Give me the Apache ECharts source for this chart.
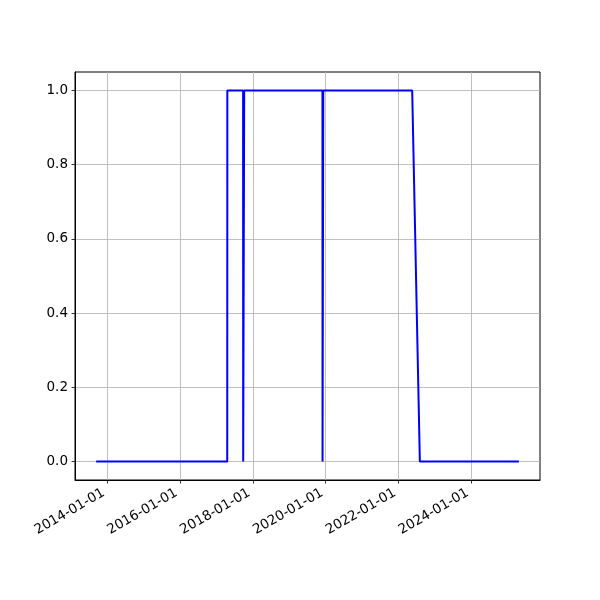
<!DOCTYPE html>
<html>
<head>
<meta charset="utf-8">
<script src="https://cdn.jsdelivr.net/npm/echarts@6/dist/echarts.min.js"></script>
<style>html,body{margin:0;padding:0;background:#fff}#c{width:600px;height:600px}</style>
</head>
<body>
<div id="c"></div>
<script>
const dates = ['2013-09-13','2017-04-20','2017-04-21','2017-09-26','2017-09-27','2017-10-06','2017-10-07','2019-12-01','2019-12-02','2019-12-08','2019-12-09','2022-05-19','2022-08-04','2025-04-23'];
const values = [0,0,1,1,0,0,1,1,0,0,1,1,0,0];
const xTickLabels = ['2014-01-01','2016-01-01','2018-01-01','2020-01-01','2022-01-01','2024-01-01'];
const yTicks = [0,0.2,0.4,0.6,0.8,1.0];

const toMs = s => Date.parse(s + 'T00:00:00Z');
const data = dates.map((d,i) => [toMs(d), values[i]]);
const xTicks = xTickLabels.map(toMs);
const xs = data.map(p => p[0]);
const span = Math.max(...xs) - Math.min(...xs);
const xMin = Math.min(...xs) - span*0.05;
const xMax = Math.max(...xs) + span*0.05;

const chart = echarts.init(document.getElementById('c'));
chart.setOption({
  animation: false,
  grid: {left: 75, right: 60, top: 72, bottom: 120, show: true, borderColor: '#000', borderWidth: 1, backgroundColor: 'transparent'},
  xAxis: {
    type: 'value', min: xMin, max: xMax,
    axisLine: {show: true, onZero: false, lineStyle: {color: '#000', width: 1}},
    axisTick: {show: true, customValues: xTicks, length: 3.5, lineStyle: {color: '#000', width: 0.8}},
    axisLabel: {customValues: xTicks, rotate: 30, margin: 10, padding: [0, 4, 0, 0], color: '#000', fontSize: 13.5, fontFamily: 'DejaVu Sans',
      formatter: v => new Date(v).toISOString().slice(0,10)},
    splitLine: {show: true, lineStyle: {color: '#b0b0b0', width: 0.8}}
  },
  yAxis: {
    type: 'value', min: -0.05, max: 1.05,
    axisLine: {show: true, onZero: false, lineStyle: {color: '#000', width: 1}},
    axisTick: {show: true, customValues: yTicks, length: 3.5, lineStyle: {color: '#000', width: 0.8}},
    axisLabel: {customValues: yTicks, margin: 7, color: '#000', fontSize: 13.5, fontFamily: 'DejaVu Sans',
      formatter: v => v.toFixed(1)},
    splitLine: {show: true, lineStyle: {color: '#b0b0b0', width: 0.8}}
  },
  series: [{
    type: 'line', data: data, showSymbol: false, symbol: 'none',
    lineStyle: {color: '#0000ff', width: 2}, itemStyle: {color: '#0000ff'}
  }]
});
</script>
</body>
</html>
